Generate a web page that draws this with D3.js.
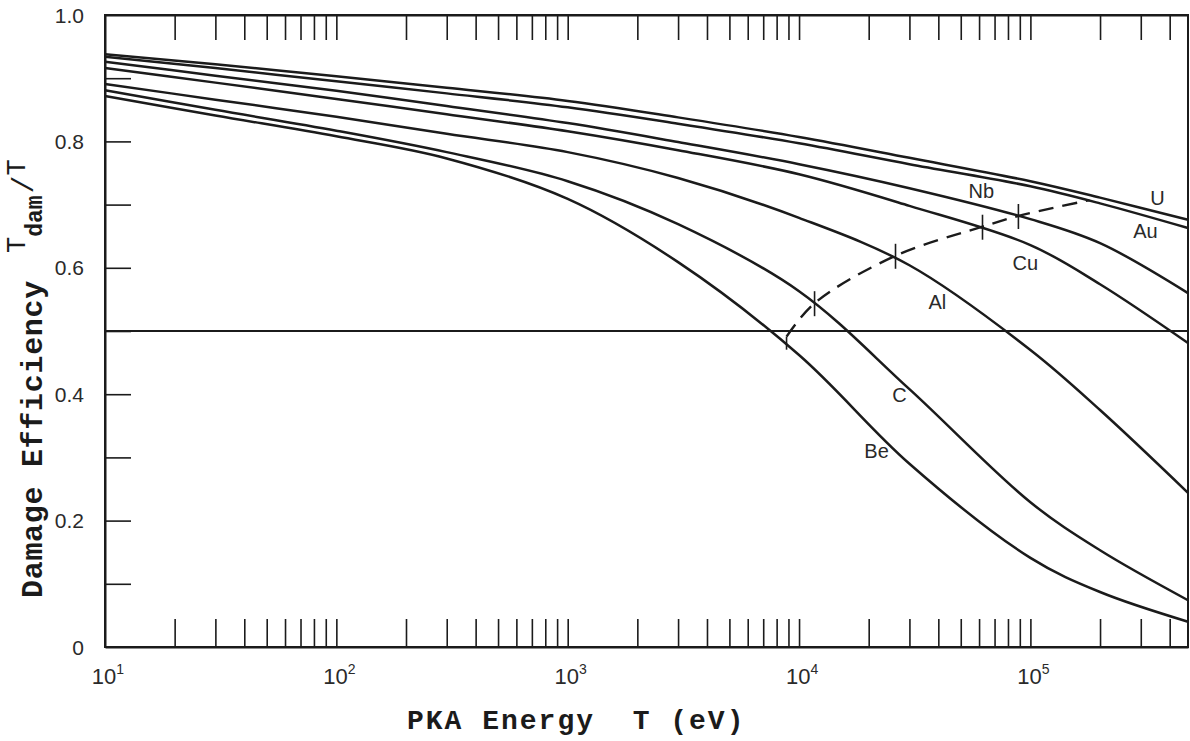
<!DOCTYPE html>
<html><head><meta charset="utf-8">
<script src="https://cdn.jsdelivr.net/npm/d3@7"></script>
<style>body{margin:0;background:#fff} svg{display:block}</style>
</head><body>
<svg id="c" width="1190" height="741"></svg>
<script>
// ---------- data ----------
const energies = [10, 30, 100, 300, 1000, 3000, 1e4, 3e4, 1e5, 2e5, 4.8e5];
const effU  = [0.938, 0.922, 0.903, 0.885, 0.864, 0.838, 0.807, 0.774, 0.737, 0.711, 0.676];
const effAu = [0.934, 0.916, 0.895, 0.876, 0.854, 0.828, 0.797, 0.764, 0.729, 0.702, 0.663];
const effNb = [0.926, 0.904, 0.880, 0.856, 0.829, 0.799, 0.764, 0.726, 0.677, 0.639, 0.560];
const effCu = [0.916, 0.893, 0.867, 0.843, 0.816, 0.786, 0.748, 0.698, 0.636, 0.574, 0.481];
const effAl = [0.891, 0.866, 0.839, 0.812, 0.783, 0.742, 0.679, 0.604, 0.470, 0.375, 0.244];
const effC  = [0.881, 0.850, 0.817, 0.783, 0.737, 0.669, 0.563, 0.408, 0.229, 0.153, 0.074];
const effBe = [0.872, 0.841, 0.808, 0.773, 0.709, 0.609, 0.462, 0.290, 0.141, 0.087, 0.040];
const seriesNames = ["U", "Au", "Nb", "Cu", "Al", "C", "Be"];
const seriesValues = [effU, effAu, effNb, effCu, effAl, effC, effBe];

// dashed locus and its marked points (Be, C, Al, Cu, Nb, end)
const locusT   = [8830, 11670, 26120, 62080, 88750, 179900];
const locusEff = [0.491, 0.544, 0.619, 0.665, 0.682, 0.707];

const yTickValues = [0, 0.2, 0.4, 0.6, 0.8, 1.0];
const yTickLabels = ["0", "0.2", "0.4", "0.6", "0.8", "1.0"];
const xDecadeExp  = [1, 2, 3, 4, 5];

// label anchors (data units) for curve names
const labelT   = [354000, 314000, 61400, 95100, 39630, 27170, 21630];
const labelEff = [0.710, 0.658, 0.722, 0.608, 0.546, 0.399, 0.310];

// ---------- layout ----------
const svg = d3.select("#c");
const x = d3.scaleLog().domain([10, 4.8e5]).range([105, 1188]);
const y = d3.scaleLinear().domain([0, 1]).range([647, 15]);
const ink = "#1b1b1b";

// frame
svg.append("rect").attr("x", 105).attr("y", 15).attr("width", 1188 - 105).attr("height", 647 - 15)
  .attr("fill", "none").attr("stroke", ink).attr("stroke-width", 2);

const minor = x.ticks().filter(t => t > 10 && t < 4.8e5);

const gB = svg.append("g").attr("transform", "translate(0,647)")
  .call(d3.axisBottom(x).tickValues(minor).tickSizeInner(-28).tickSizeOuter(0).tickFormat(""));
const gT = svg.append("g").attr("transform", "translate(0,15)")
  .call(d3.axisTop(x).tickValues(minor).tickSizeInner(-25).tickSizeOuter(0).tickFormat(""));
const gL = svg.append("g").attr("transform", "translate(105,0)")
  .call(d3.axisLeft(y).tickValues(d3.range(1, 10).map(i => i / 10)).tickSizeInner(-26).tickSizeOuter(0).tickFormat(""));
[gB, gT, gL].forEach(g => {
  g.select(".domain").attr("stroke", ink).attr("stroke-width", 2);
  g.selectAll(".tick line").attr("stroke", ink).attr("stroke-width", 1.6);
});

// y tick labels
svg.append("g").selectAll("text").data(yTickValues).join("text")
  .attr("x", 84).attr("y", d => y(d)).attr("dy", "0.36em")
  .attr("text-anchor", "end")
  .attr("font-family", "Liberation Sans, Arial, sans-serif").attr("font-size", 21)
  .attr("fill", "#2a2a2a")
  .text((d, i) => yTickLabels[i]);

// x tick labels 10^n
const xl = svg.append("g").selectAll("text").data(xDecadeExp).join("text")
  .attr("x", d => x(Math.pow(10, d)) + 3).attr("y", 684)
  .attr("text-anchor", "middle")
  .attr("font-family", "Liberation Sans, Arial, sans-serif").attr("font-size", 22)
  .attr("fill", "#2a2a2a");
xl.append("tspan").text("10");
xl.append("tspan").attr("dy", -10).attr("font-size", 14).text(d => d);

// half line
svg.append("line").attr("x1", 105).attr("x2", 1188).attr("y1", y(0.5)).attr("y2", y(0.5))
  .attr("stroke", ink).attr("stroke-width", 2);

// curves
const line = d3.line().x(d => x(d[0])).y(d => y(d[1])).curve(d3.curveCatmullRom.alpha(0.5));
svg.append("g").selectAll("path").data(seriesValues).join("path")
  .attr("d", vals => line(energies.map((t, i) => [t, vals[i]])))
  .attr("fill", "none").attr("stroke", ink).attr("stroke-width", 2.5);

// dashed locus
const locus = locusT.map((t, i) => [t, locusEff[i]]);
svg.append("path")
  .attr("d", line(locus))
  .attr("fill", "none").attr("stroke", ink).attr("stroke-width", 2.4)
  .attr("stroke-dasharray", "15,9");

// cross marks
svg.append("g").selectAll("line").data(locus.slice(0, 5)).join("line")
  .attr("x1", d => x(d[0])).attr("x2", d => x(d[0]))
  .attr("y1", (d, i) => y(d[1]) - (i === 0 ? 0 : 12))
  .attr("y2", d => y(d[1]) + 13)
  .attr("stroke", ink).attr("stroke-width", 1.6);

// curve labels
svg.append("g").selectAll("text").data(seriesNames).join("text")
  .attr("x", (d, i) => x(labelT[i])).attr("y", (d, i) => y(labelEff[i])).attr("dy", "0.36em")
  .attr("text-anchor", "middle")
  .attr("font-family", "Liberation Sans, Arial, sans-serif").attr("font-size", 20)
  .attr("fill", "#2a2a2a")
  .text(d => d);

// axis titles
svg.append("text").attr("x", 407).attr("y", 729)
  .attr("font-family", "Liberation Mono, Courier New, monospace").attr("font-weight", "bold")
  .attr("font-size", 28).attr("letter-spacing", 2).attr("fill", ink)
  .attr("xml:space", "preserve")
  .text("PKA Energy  T (eV)");

const yt = svg.append("text").attr("transform", "translate(42,598) rotate(-90)")
  .attr("font-family", "Liberation Mono, Courier New, monospace").attr("fill", ink);
yt.append("tspan").attr("font-weight", "bold").attr("font-size", 30).attr("letter-spacing", 0.7)
  .text("Damage Efficiency");
yt.append("tspan").attr("dx", 27).attr("dy", -17).attr("font-size", 27).text("T");
yt.append("tspan").attr("dy", 17).attr("font-size", 23).attr("font-weight", "bold").text("dam");
yt.append("tspan").attr("dy", -9).attr("dx", 2).attr("font-size", 30).text("/");
yt.append("tspan").attr("dy", -8).attr("font-size", 27).text("T");
</script>
</body></html>
